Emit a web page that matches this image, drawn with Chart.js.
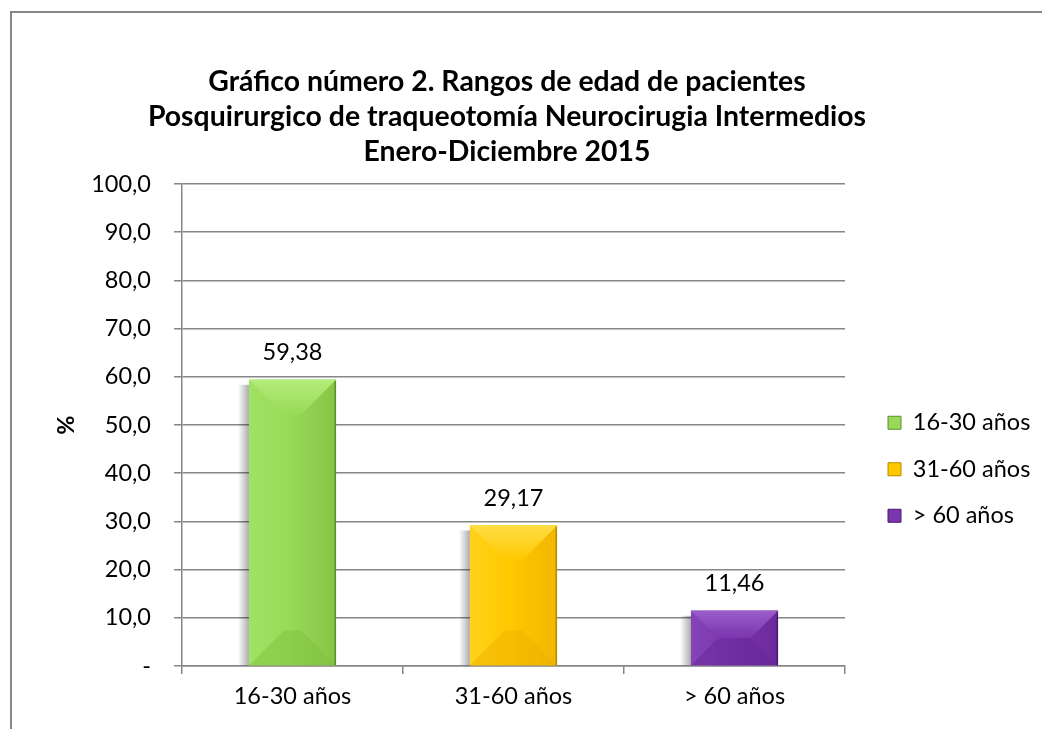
<!DOCTYPE html>
<html><head><meta charset="utf-8">
<script src="https://cdn.jsdelivr.net/npm/chart.js@4"></script>
<style>
html,body{margin:0;padding:0;background:#fff;overflow:hidden;}
#wrap{position:relative;width:1042px;height:729px;background:#fff;}
#frame{position:absolute;left:10px;top:11px;width:1100px;height:800px;border-left:2px solid #868686;border-top:2px solid #868686;pointer-events:none;}
canvas{position:absolute;left:0;top:0;}
</style></head><body>
<div id="wrap"><canvas id="c" width="1042" height="729"></canvas><div id="frame"></div></div>
<script>
// ---- data ----
const categories = ['16-30 años', '31-60 años', '> 60 años'];
const values = [59.38, 29.17, 11.46];
const titleLines = ['Gráfico número 2. Rangos de edad de pacientes',
  'Posquirurgico de traqueotomía Neurocirugia Intermedios',
  'Enero-Diciembre 2015'];
const yAxisTitle = '%';
const yMin = 0, yMax = 100, yStep = 10;

// ---- styles ----
const FONT = 'Lato, "Open Sans", sans-serif';
const palettes = [
  {base:'#98D957', left:'#A2E263', mid:'#99DA58', right:'#86C446', top:'#B3EC7A', bottom:'#7FBE3F', edge:'#5E8E2C'},
  {base:'#FFC800', left:'#FFD21A', mid:'#FFC800', right:'#F2B600', top:'#FFDD45', bottom:'#ECB000', edge:'#B88A00'},
  {base:'#7A36AE', left:'#8443B8', mid:'#7A36AE', right:'#6B2A9C', top:'#9A5CCB', bottom:'#65259A', edge:'#4A1A72'}
];
const fmt = v => v.toFixed(2).replace('.', ',');
const PAD_LEFT = -28;

Chart.defaults.color = '#000';
Chart.defaults.font.family = FONT;

const bevel = {
  id: 'bevel',
  beforeLayout(chart) {
    const lg = chart.legend;
    if (lg && !lg._fixedFit) {
      const f = lg.fit;
      lg.fit = function () { f.call(this); this.width = 1042 - 865; };
      lg._fixedFit = true;
    }
  },
  beforeDatasetsDraw(chart) {
    const ctx = chart.ctx;
    ctx.save();
    chart.getDatasetMeta(0).data.forEach((b) => {
      const {x, y, base, width} = b.getProps(['x', 'y', 'base', 'width'], true);
      const l = x - width / 2;
      const g = ctx.createLinearGradient(l - 11, 0, l, 0);
      g.addColorStop(0, 'rgba(0,0,0,0)');
      g.addColorStop(1, 'rgba(0,0,0,0.32)');
      ctx.fillStyle = g;
      ctx.fillRect(l - 11, y + 5, 11, base - y - 5);
    });
    ctx.restore();
  },
  afterDatasetsDraw(chart) {
    const ctx = chart.ctx;
    ctx.save();
    chart.getDatasetMeta(0).data.forEach((b, i) => {
      const {x, y, base, width} = b.getProps(['x', 'y', 'base', 'width'], true);
      const p = palettes[i % palettes.length];
      const l = x - width / 2, r = x + width / 2, h = base - y;
      const d = Math.min(width * 0.4, h / 2);
      const g = ctx.createLinearGradient(l, 0, r, 0);
      g.addColorStop(0, p.left); g.addColorStop(0.45, p.mid); g.addColorStop(1, p.right);
      ctx.fillStyle = g;
      ctx.fillRect(l, y, width, h);
      // top bevel
      ctx.beginPath();
      ctx.moveTo(l, y); ctx.lineTo(r, y); ctx.lineTo(r - d, y + d); ctx.lineTo(l + d, y + d); ctx.closePath();
      const gt = ctx.createLinearGradient(0, y, 0, y + d);
      gt.addColorStop(0, p.top); gt.addColorStop(1, p.mid);
      ctx.fillStyle = gt; ctx.fill();
      // bottom bevel
      ctx.beginPath();
      ctx.moveTo(l, base); ctx.lineTo(r, base); ctx.lineTo(r - d, base - d); ctx.lineTo(l + d, base - d); ctx.closePath();
      ctx.fillStyle = p.bottom; ctx.globalAlpha = 0.45; ctx.fill(); ctx.globalAlpha = 1;
      // edges
      ctx.strokeStyle = p.edge; ctx.lineWidth = 1.5;
      ctx.beginPath(); ctx.moveTo(r - 0.75, y); ctx.lineTo(r - 0.75, base); ctx.stroke();
      ctx.strokeStyle = p.top; ctx.lineWidth = 1;
      ctx.beginPath(); ctx.moveTo(l, y + 0.5); ctx.lineTo(r, y + 0.5); ctx.stroke();
      // value label
      ctx.fillStyle = '#000';
      ctx.font = '23.5px ' + FONT;
      ctx.textAlign = 'center'; ctx.textBaseline = 'middle';
      ctx.fillText(fmt(values[i]), x, y - 27);
    });
    ctx.restore();
  }
};

new Chart(document.getElementById('c'), {
  type: 'bar',
  data: {
    labels: categories,
    datasets: [{
      data: values,
      backgroundColor: palettes.map(p => p.base),
      borderWidth: 0,
      categoryPercentage: 1,
      barPercentage: 0.394
    }]
  },
  options: {
    responsive: false,
    animation: false,
    layout: {padding: {left: PAD_LEFT, top: 0, bottom: 0, right: 0}},
    plugins: {
      title: {
        display: true,
        text: titleLines,
        font: {size: 28.4, weight: 'bold', lineHeight: 35 / 28.4},
        padding: {top: 64.5, bottom: 14.5},
        color: '#000'
      },
      legend: {
        display: true,
        position: 'right',
        align: 'start',
        title: {display: true, text: '', font: {size: 12, lineHeight: 1.2}, padding: {top: 373.6, bottom: 0}},
        labels: {
          boxWidth: 13, boxHeight: 13, padding: 23,
          font: {size: 23.5},
          color: '#000',
          generateLabels: () => categories.map((c, i) => ({
            text: c,
            fillStyle: palettes[i].base,
            strokeStyle: palettes[i].edge,
            lineWidth: 1,
            hidden: false,
            index: i
          }))
        }
      },
      tooltip: {enabled: false}
    },
    scales: {
      x: {
        grid: {display: true, offset: true, drawOnChartArea: false, drawTicks: true, tickLength: 8, color: '#868686', lineWidth: 1.5},
        border: {display: true, color: '#868686', width: 1.5},
        ticks: {font: {size: 23.5}, padding: 8, color: '#000'},
        afterFit(s) { s.height = 63; }
      },
      y: {
        min: yMin, max: yMax,
        grid: {color: '#868686', lineWidth: 1.5, tickLength: 8},
        border: {display: true, color: '#868686', width: 1.5},
        ticks: {
          stepSize: yStep,
          font: {size: 23.5}, padding: 23, color: '#000',
          callback: v => v === 0 ? '-' : v.toFixed(1).replace('.', ',')
        },
        title: {display: true, text: yAxisTitle, font: {size: 23.5, weight: 'bold'}, padding: {top: 52 - PAD_LEFT, bottom: 0}, color: '#000'},
        afterFit(s) { s.width = 182 - PAD_LEFT; }
      },
      y2: {
        position: 'right',
        display: true,
        grid: {display: false, drawOnChartArea: false},
        ticks: {display: false},
        border: {display: false},
        afterFit(s) { s.width = 20; }
      }
    }
  },
  plugins: [bevel]
});
</script>
</body></html>
